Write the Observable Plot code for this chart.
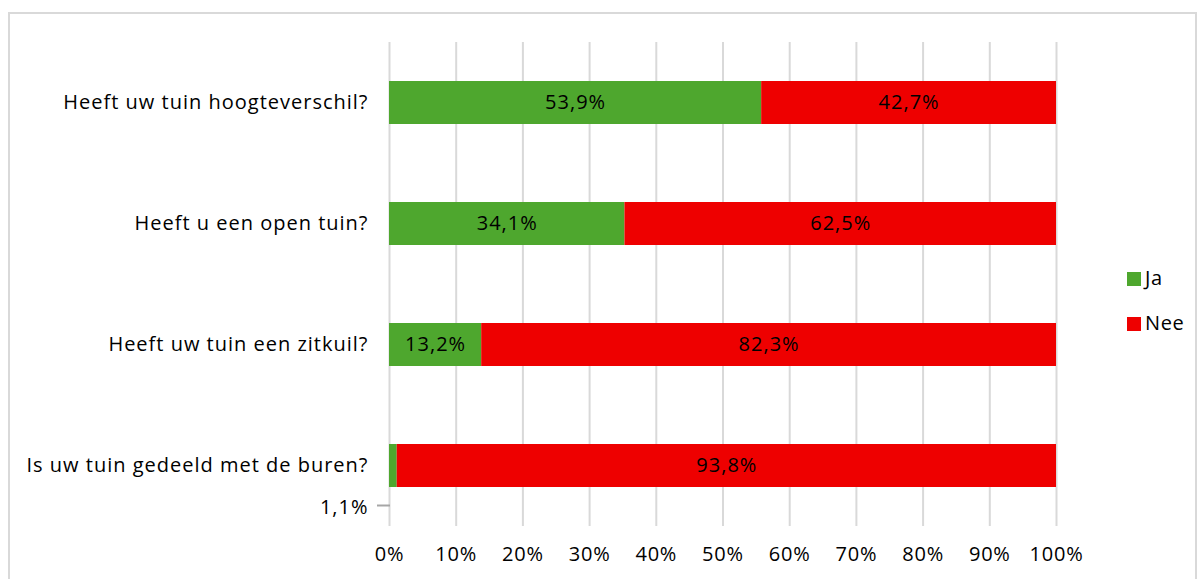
<!DOCTYPE html>
<html>
<head>
<meta charset="utf-8">
<script src="https://cdn.jsdelivr.net/npm/d3@7"></script>
<script src="https://cdn.jsdelivr.net/npm/@observablehq/plot@0.6"></script>
<style>
  html, body { margin: 0; padding: 0; background: #fff; width: 1202px; height: 579px; overflow: hidden; }
  #frame { position: absolute; left: 8px; top: 12px; width: 1189px; height: 600px; border: 2px solid #d9d9d9; box-sizing: border-box; }
  #chart { position: absolute; left: 0; top: 0; }
  #chart g[aria-label="y-axis tick label"] text { letter-spacing: 1px; }
  #chart g[aria-label="x-axis tick label"] text { letter-spacing: 0.8px; }
  .legend { position: absolute; left: 1127px; font-family: "Open Sans", sans-serif; font-size: 20px; line-height: 24px; color: #000; letter-spacing: 0.6px; }
  .legend .sw { display: inline-block; width: 14px; height: 14px; margin-right: 4px; vertical-align: -1px; }
</style>
</head>
<body>
<div id="frame"></div>
<div id="chart"></div>
<div class="legend" style="top:266px"><span class="sw" style="background:#4ea72e"></span>Ja</div>
<div class="legend" style="top:311px"><span class="sw" style="background:#ee0000"></span>Nee</div>
<script>
const questions = ["Heeft uw tuin hoogteverschil?", "Heeft u een open tuin?", "Heeft uw tuin een zitkuil?", "Is uw tuin gedeeld met de buren?"];
const ja = [53.9, 34.1, 13.2, 1.1];
const nee = [42.7, 62.5, 82.3, 93.8];
const answers = ["Ja", "Nee"];
const colors = ["#4ea72e", "#ee0000"];
const xTicks = [0, 0.1, 0.2, 0.3, 0.4, 0.5, 0.6, 0.7, 0.8, 0.9, 1];

const data = [];
questions.forEach((q, i) => {
  data.push({q, answer: "Ja", value: ja[i]});
  data.push({q, answer: "Nee", value: nee[i]});
});
const fmt = v => v.toFixed(1).replace(".", ",") + "%";
const inside = d => !(d.answer === "Ja" && d.value < 5);
const small = data.filter(d => !inside(d));

const font = "'Open Sans', sans-serif";
const chart = Plot.plot({
  width: 1202,
  height: 579,
  marginLeft: 389,
  marginRight: 146,
  marginTop: 42,
  marginBottom: 53,
  style: {fontFamily: font, fontSize: "20px", color: "#000", background: "transparent"},
  x: {domain: [0, 1], label: null},
  y: {domain: questions, paddingInner: 0.645, paddingOuter: 0.3225, label: null},
  color: {domain: answers, range: colors},
  marks: [
    Plot.gridX(xTicks, {stroke: "#d9d9d9", strokeOpacity: 1, strokeWidth: 2}),
    Plot.axisX({ticks: xTicks, tickSize: 0, tickPadding: 20, tickFormat: d => Math.round(d * 100) + "%", fontSize: 20, label: null}),
    Plot.axisY({tickSize: 0, tickPadding: 21, fontSize: 20, label: null}),
    Plot.barX(data, Plot.stackX({x: "value", y: "q", fill: "answer", offset: "normalize", order: answers})),
    Plot.text(data, Plot.stackX({x: "value", y: "q", z: "answer", offset: "normalize", order: answers,
      text: d => inside(d) ? fmt(d.value) : "", fill: "#000", fontSize: 20, style: "letter-spacing:0.8px"})),
    // leader line and label for the small value
    Plot.ruleX(small, {x: () => 0.0015, y: "q", insetTop: 23, dy: 18, stroke: "#a6a6a6", strokeWidth: 2}),
    Plot.ruleY(small, {y: "q", x1: () => 0.0015, x2: () => -0.018, dy: 39.5, stroke: "#a6a6a6", strokeWidth: 2}),
    Plot.text(small, {x: () => 0, y: "q", text: d => fmt(d.value), dx: -21, dy: 42, textAnchor: "end", fill: "#000", fontSize: 20})
  ]
});
chart.querySelectorAll('g[aria-label="text"] text').forEach(t => t.setAttribute("letter-spacing", "1"));
document.getElementById("chart").appendChild(chart);
</script>
</body>
</html>
